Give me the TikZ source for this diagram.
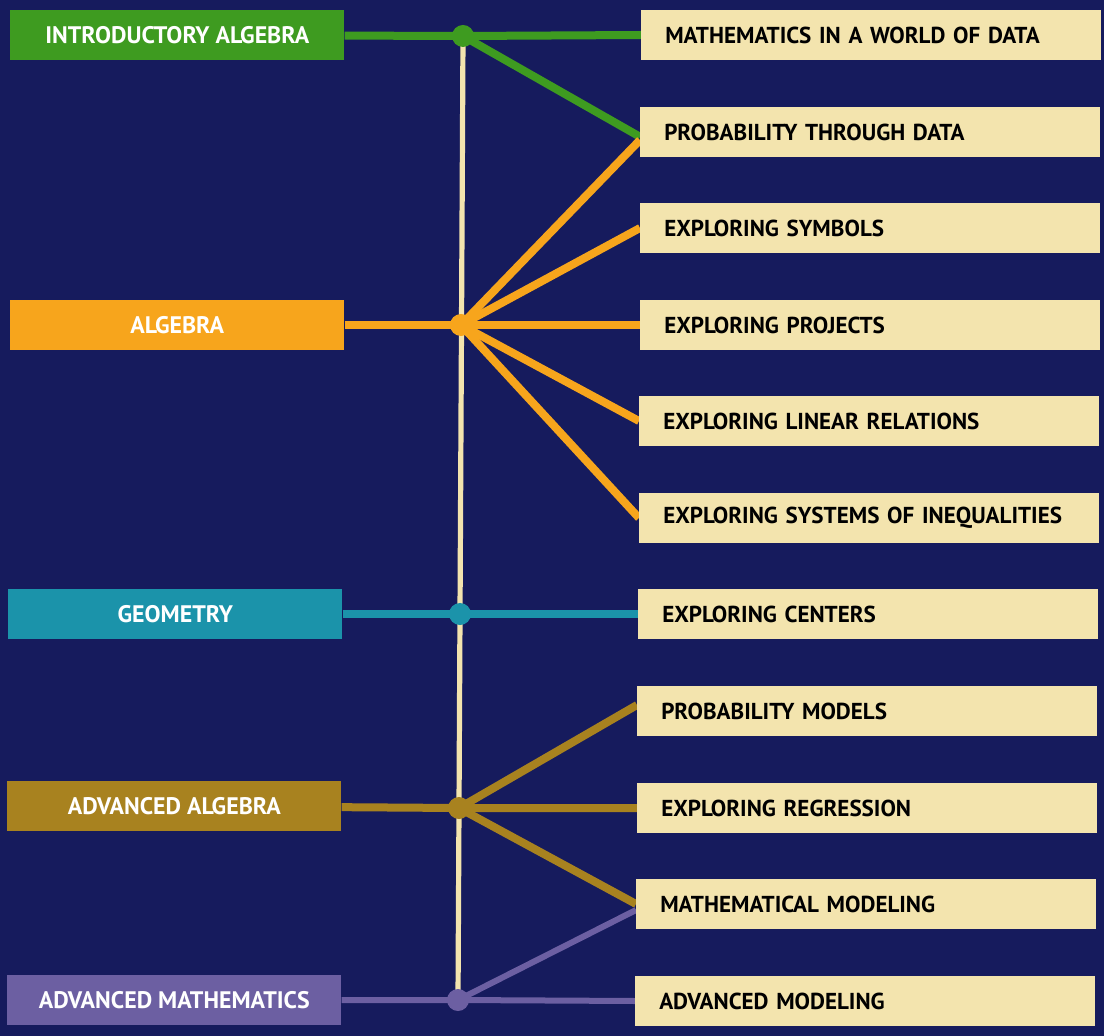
\documentclass[tikz,border=0pt]{standalone}
\usepackage{fontspec}
\setmainfont{PT Sans}
\usetikzlibrary{positioning}
\definecolor{CourseNavy}{HTML}{161B5D}
\definecolor{CourseCream}{HTML}{F3E4AE}
\definecolor{CourseGreen}{HTML}{3E9B20}
\definecolor{CourseOrange}{HTML}{F7A51C}
\definecolor{CourseTeal}{HTML}{1B93AA}
\definecolor{CourseGold}{HTML}{A8821F}
\definecolor{CoursePurple}{HTML}{6C5FA2}
\pgfdeclarelayer{bg}
\pgfdeclarelayer{links}
\pgfsetlayers{bg,links,main}

\begin{document}
\begin{tikzpicture}[
  x=0.025cm,y=-0.025cm,
  level/.style={fill=#1,text=white,minimum width=8.35cm,minimum height=1.25cm,
    inner xsep=0pt,align=center,anchor=west,font=\fontsize{17}{19}\selectfont\bfseries},
  course/.style={fill=CourseCream,text=black,minimum width=11.5cm,minimum height=1.25cm,
    text width=10.3cm,inner xsep=0.6cm,align=left,anchor=west,
    font=\fontsize{16.4}{18}\selectfont\bfseries},
  hub/.style={circle,fill=#1,minimum size=0.55cm,inner sep=0pt},
  link/.style={draw=#1,line width=0.2cm},
  spine/.style={draw=CourseCream,line width=0.13cm}
]
\begin{pgfonlayer}{bg}
\fill[CourseNavy] (0,0) rectangle (1104,1036);
\end{pgfonlayer}
% levels on the left
\node[level=CourseGreen] (intro) at (10,35) {INTRODUCTORY ALGEBRA};
\node[level=CourseOrange] (alg) at (10,325) {ALGEBRA};
\node[level=CourseTeal] (geo) at (8,614) {GEOMETRY};
\node[level=CourseGold] (advalg) at (7,806) {ADVANCED ALGEBRA};
\node[level=CoursePurple] (advmath) at (7,1000) {ADVANCED MATHEMATICS};
% courses on the right
\node[course] (world) at (641,35) {MATHEMATICS IN A WORLD OF DATA};
\node[course] (probdata) at (640,132) {PROBABILITY THROUGH DATA};
\node[course] (symbols) at (640,228) {EXPLORING SYMBOLS};
\node[course] (projects) at (640,325) {EXPLORING PROJECTS};
\node[course] (linear) at (639,421) {EXPLORING LINEAR RELATIONS};
\node[course] (ineq) at (639,518) {EXPLORING SYSTEMS OF INEQUALITIES};
\node[course] (centers) at (638,614) {EXPLORING CENTERS};
\node[course] (probmod) at (637,711) {PROBABILITY MODELS};
\node[course] (regress) at (637,808) {EXPLORING REGRESSION};
\node[course] (modeling) at (636,904) {MATHEMATICAL MODELING};
\node[course] (advmod) at (635,1001) {ADVANCED MODELING};
% hubs on the spine
\node[hub=CourseGreen] (h1) at (463,36) {};
\node[hub=CourseOrange] (h2) at (461,325) {};
\node[hub=CourseTeal] (h3) at (460,614) {};
\node[hub=CourseGold] (h4) at (459,808) {};
\node[hub=CoursePurple] (h5) at (458,1000) {};
\begin{pgfonlayer}{links}
\draw[spine] (h1.center) -- (h5.center);
\draw[link=CourseGreen] (intro) -- (h1.center) -- (world.west);
\draw[link=CourseGreen] (h1.center) -- ([yshift=-0.12cm]probdata.west);
\draw[link=CourseOrange] (alg) -- (h2.center) -- (projects.west);
\draw[link=CourseOrange] (h2.center) -- ([yshift=-0.2cm]probdata.west);
\draw[link=CourseOrange] (h2.center) -- (symbols.west);
\draw[link=CourseOrange] (h2.center) -- (linear.west);
\draw[link=CourseOrange] (h2.center) -- (ineq.west);
\draw[link=CourseTeal] (geo) -- (h3.center) -- (centers.west);
\draw[link=CourseGold] (advalg) -- (h4.center) -- (regress.west);
\draw[link=CourseGold] (h4.center) -- ([yshift=0.15cm]probmod.west);
\draw[link=CourseGold] (h4.center) -- (modeling.west);
\draw[link=CoursePurple,line width=0.15cm] (advmath) -- (h5.center) -- (advmod.west);
\draw[link=CoursePurple,line width=0.15cm] (h5.center) -- ([yshift=-0.15cm]modeling.west);
\end{pgfonlayer}
\end{tikzpicture}
\end{document}
